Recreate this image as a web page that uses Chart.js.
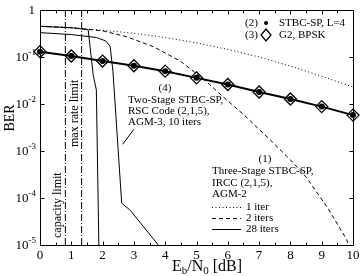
<!DOCTYPE html>
<html><head><meta charset="utf-8">
<script src="https://cdn.jsdelivr.net/npm/chart.js@4/dist/chart.umd.min.js"></script>
<style>html,body{margin:0;padding:0;background:#fff}#wrap{width:364px;height:276px}</style>
</head><body><div id="wrap"><canvas id="c" width="364" height="276"></canvas></div>
<script>
// ---- data ----
const xTickValues = [0,1,2,3,4,5,6,7,8,9,10];
const yTickValues = [1,1e-1,1e-2,1e-3,1e-4,1e-5];
const yTickExponents = [0,-1,-2,-3,-4,-5];

// (2) STBC-SP, L=4 and (3) G2, BPSK
const refEb = [0,1,2,3,4,5,6,7,8,9,10];
const stbcSpBer = [0.13,0.105,0.082,0.065,0.050,0.036,0.026,0.018,0.0128,0.0088,0.0058];
const g2BpskBer = [0.13,0.105,0.082,0.065,0.050,0.036,0.026,0.018,0.0128,0.0088,0.0058];

// (1) Three-stage STBC-SP, IRCC, AGM-2
const iter1Eb  = [0,1,2,3,4,5,6,7,8,9,10];
const iter1Ber = [0.45,0.42,0.37,0.32,0.26,0.20,0.145,0.10,0.064,0.039,0.023];
const iter2Eb  = [0,1,1.5,2,2.77,3.62,4.47,5.27,5.86,6.5,7.29,8,8.52,9.2,9.8,9.85];
const iter2Ber = [0.45,0.42,0.39,0.36,0.27,0.166,0.083,0.032,0.014,0.006,0.0019,0.00065,0.00027,0.00006,0.000013,0.00001];
const iter28Eb  = [0,1,1.54,1.70,1.80,1.88];
const iter28Ber = [0.45,0.42,0.38,0.041,0.02,0.00001];

// (4) Two-stage STBC-SP, RSC, AGM-3, 10 iters
const twoStageEb  = [0,1,1.8,2.1,2.24,2.33,2.61,2.88,3.78];
const twoStageBer = [0.33,0.30,0.26,0.22,0.17,0.05,0.000078,0.000055,0.00001];

// limits
const capacityLimitEb = 0.81;
const maxRateLimitEb = 1.33;

// ---- helpers ----
const pts = (xa, ya) => xa.map((x, i) => ({x, y: ya[i]}));
const vline = (x) => [{x, y: 1}, {x, y: 1e-5}];
const serif = '"Liberation Serif", "Times New Roman", serif';
const base = {fill:false, pointRadius:0, tension:0, borderColor:'#000', backgroundColor:'#000'};

const annot = {
  id: 'annot',
  afterDraw(chart) {
    const ctx = chart.ctx, xs = chart.scales.x, ys = chart.scales.y, a = chart.chartArea;
    ctx.save();
    ctx.strokeStyle = '#000'; ctx.fillStyle = '#000'; ctx.lineWidth = 1; ctx.setLineDash([]);
    const L = Math.round(a.left)+0.5, R = Math.round(a.right)+0.5, T = Math.round(a.top)+0.5, B = Math.round(a.bottom)+0.5;
    ctx.beginPath(); ctx.rect(L, T, R-L, B-T); ctx.stroke();
    // x ticks (inward, top & bottom, every 0.5)
    ctx.beginPath();
    for (let v = 0; v <= 10.001; v += 0.5) {
      const px = Math.round(xs.getPixelForValue(v)) + 0.5;
      const len = Math.abs(v - Math.round(v)) < 1e-6 ? 4 : 3;
      ctx.moveTo(px, B); ctx.lineTo(px, B - len);
      ctx.moveTo(px, T); ctx.lineTo(px, T + len);
    }
    yTickValues.forEach(v => {
      const py = Math.round(ys.getPixelForValue(v)) + 0.5;
      ctx.moveTo(L, py); ctx.lineTo(L + 4, py);
      ctx.moveTo(R, py); ctx.lineTo(R - 4, py);
    });
    ctx.stroke();
    // x tick labels
    ctx.font = '13px ' + serif; ctx.textAlign = 'center'; ctx.textBaseline = 'middle';
    xTickValues.forEach(v => ctx.fillText(String(v), xs.getPixelForValue(v), 256));
    // y tick labels
    yTickValues.forEach((v, i) => {
      const py = ys.getPixelForValue(v);
      const e = yTickExponents[i];
      ctx.textBaseline = 'middle'; ctx.textAlign = 'right';
      if (e === 0) { ctx.font = '13px ' + serif; ctx.fillText('1', 35, py + 1); return; }
      ctx.font = '9px ' + serif;
      const sup = String(e);
      const sw = ctx.measureText(sup).width;
      ctx.fillText(sup, 36, py - 4);
      ctx.font = '13px ' + serif;
      ctx.fillText('10', 36 - sw, py + 1);
    });
    // axis titles
    ctx.save();
    ctx.translate(10, 118); ctx.rotate(-Math.PI/2);
    ctx.font = '14px ' + serif; ctx.textAlign = 'center'; ctx.textBaseline = 'middle';
    ctx.fillText('BER', 0, 0);
    ctx.restore();
    {
      const parts = [['E',16,0],['b',11,3],['/N',16,0],['0',11,3],[' [dB]',16,0]];
      let w = 0;
      parts.forEach(p => { ctx.font = p[1] + 'px ' + serif; w += ctx.measureText(p[0]).width; });
      let x = 207 - w/2;
      ctx.textAlign = 'left'; ctx.textBaseline = 'alphabetic';
      parts.forEach(p => { ctx.font = p[1] + 'px ' + serif; ctx.fillText(p[0], x, 271 + p[2]); x += ctx.measureText(p[0]).width; });
    }
    // rotated limit labels
    ctx.font = '12px ' + serif; ctx.textBaseline = 'middle'; ctx.textAlign = 'left';
    [['capacity limit', 58, 238], ['max rate limit', 75, 147]].forEach(t => {
      ctx.save(); ctx.translate(t[1], t[2]); ctx.rotate(-Math.PI/2); ctx.fillText(t[0], 0, 0); ctx.restore();
    });
    // annotation (4)
    ctx.font = '11px ' + serif; ctx.textAlign = 'center'; ctx.textBaseline = 'middle';
    ctx.fillText('(4)', 165, 88);
    ctx.textAlign = 'left';
    ctx.fillText('Two-Stage STBC-SP,', 128, 100);
    ctx.fillText('RSC Code (2,1,5),', 128, 111);
    ctx.fillText('AGM-3, 10 iters', 128, 122);
    ctx.beginPath();
    ctx.moveTo(xs.getPixelForValue(3.0), ys.getPixelForValue(0.0029));
    ctx.lineTo(xs.getPixelForValue(2.64), ys.getPixelForValue(0.00139));
    ctx.stroke();
    // annotation (1) + line legend
    ctx.textAlign = 'center';
    ctx.fillText('(1)', 265, 159);
    ctx.textAlign = 'left';
    ctx.fillText('Three-Stage STBC-SP,', 212, 171);
    ctx.fillText('IRCC (2,1,5),', 212, 183);
    ctx.fillText('AGM-2', 212, 194);
    [[[1,2.5],'1 iter',207],[[4,3],'2 iters',218],[[],'28 iters',229]].forEach(r => {
      ctx.setLineDash(r[0]); ctx.beginPath(); ctx.moveTo(212, r[2] + 0.5); ctx.lineTo(241, r[2] + 0.5); ctx.stroke();
      ctx.setLineDash([]); ctx.fillText(r[1], 246, r[2]);
    });
    // top-right legend
    ctx.fillText('(2)', 245, 23);
    ctx.fillText('STBC-SP, L=4', 279, 23);
    ctx.fillText('(3)', 245, 35);
    ctx.fillText('G2, BPSK', 279, 35);
    ctx.beginPath(); ctx.arc(266, 23, 2, 0, Math.PI*2); ctx.fill();
    ctx.beginPath(); ctx.moveTo(266, 29); ctx.lineTo(271, 35); ctx.lineTo(266, 41); ctx.lineTo(261, 35); ctx.closePath();
    ctx.lineWidth = 1.3; ctx.stroke();
    ctx.restore();
  }
};

new Chart(document.getElementById('c'), {
  type: 'line',
  data: { datasets: [
    {...base, label:'capacity limit', data: vline(capacityLimitEb), borderWidth:1, borderDash:[7,2,1,2]},
    {...base, label:'max rate limit', data: vline(maxRateLimitEb), borderWidth:1, borderDash:[7,2,1,2]},
    {...base, label:'1 iter', data: pts(iter1Eb, iter1Ber), borderWidth:1, borderDash:[1,2.5]},
    {...base, label:'2 iters', data: pts(iter2Eb, iter2Ber), borderWidth:1, borderDash:[4,3]},
    {...base, label:'28 iters', data: pts(iter28Eb, iter28Ber), borderWidth:1},
    {...base, label:'Two-Stage', data: pts(twoStageEb, twoStageBer), borderWidth:1},
    {...base, label:'G2, BPSK', data: pts(refEb, g2BpskBer), showLine:false, pointStyle:'rectRot', pointRadius:6, pointBorderWidth:1.3, pointBackgroundColor:'rgba(0,0,0,0)', pointBorderColor:'#000', clip:false},
    {...base, label:'STBC-SP, L=4', data: pts(refEb, stbcSpBer), borderWidth:2, pointRadius:2, pointStyle:'circle', pointBackgroundColor:'#000', clip:false}
  ]},
  options: {
    responsive:false, animation:false, devicePixelRatio:1,
    layout:{padding:{left:0,right:11,top:10,bottom:0}},
    plugins:{legend:{display:false}, tooltip:{enabled:false}},
    scales:{
      x:{type:'linear', min:0, max:10, ticks:{display:false}, grid:{display:false, drawTicks:false}, border:{display:false}, afterFit(s){ s.height = 31; }},
      y:{type:'logarithmic', min:1e-5, max:1, ticks:{display:false}, grid:{display:false, drawTicks:false}, border:{display:false}, afterFit(s){ s.width = 40; }}
    }
  },
  plugins:[annot]
});
</script></body></html>
